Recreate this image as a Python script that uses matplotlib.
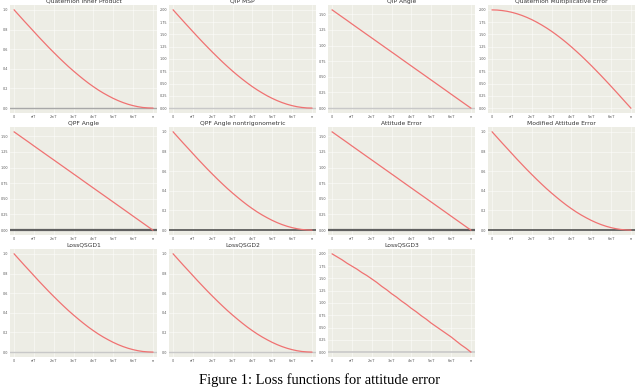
"""Loss functions for attitude error: 11 small panels in a 3x4 grid."""
import matplotlib

matplotlib.use("Agg")
import matplotlib.pyplot as plt  # noqa: E402

# attitude error angle samples (rad), 0 .. pi in steps of pi/28
theta = [0.000, 0.112, 0.224, 0.337, 0.449, 0.561, 0.673, 0.785,
         0.898, 1.010, 1.122, 1.234, 1.346, 1.459, 1.571, 1.683,
         1.795, 1.907, 2.020, 2.132, 2.244, 2.356, 2.468, 2.580,
         2.693, 2.805, 2.917, 3.029, 3.142]

x_ticks = [0.0, 0.449, 0.898, 1.346, 1.795, 2.244, 2.693, 3.142]
x_tick_labels = ["0", "π/7", "2π/7", "3π/7", "4π/7", "5π/7", "6π/7", "π"]

titles = [
    "Quaternion Inner Product", "QIP MSP", "QIP Angle",
    "Quaternion Multiplicative Error",
    "QPF Angle", "QPF Angle nontrigonometric", "Attitude Error",
    "Modified Attitude Error",
    "LossQSGD1", "LossQSGD2", "LossQSGD3",
]

qip = [1.000, 0.944, 0.888, 0.833, 0.778, 0.723, 0.670, 0.617,
       0.566, 0.516, 0.468, 0.421, 0.377, 0.334, 0.293, 0.254,
       0.218, 0.184, 0.153, 0.125, 0.099, 0.076, 0.056, 0.039,
       0.025, 0.014, 0.006, 0.002, 0.000]
qip_msp = [2.000, 1.888, 1.776, 1.665, 1.555, 1.446, 1.339, 1.235,
           1.132, 1.033, 0.936, 0.843, 0.753, 0.667, 0.586, 0.509,
           0.436, 0.369, 0.307, 0.249, 0.198, 0.152, 0.112, 0.078,
           0.050, 0.028, 0.013, 0.003, 0.000]
qip_angle = [1.571, 1.515, 1.459, 1.403, 1.346, 1.290, 1.234, 1.178,
             1.122, 1.066, 1.010, 0.954, 0.898, 0.842, 0.785, 0.729,
             0.673, 0.617, 0.561, 0.505, 0.449, 0.393, 0.337, 0.281,
             0.224, 0.168, 0.112, 0.056, 0.000]
q_mult = [2.000, 1.997, 1.987, 1.972, 1.950, 1.922, 1.888, 1.848,
          1.802, 1.750, 1.693, 1.631, 1.564, 1.491, 1.414, 1.333,
          1.247, 1.157, 1.064, 0.967, 0.868, 0.765, 0.661, 0.554,
          0.445, 0.335, 0.224, 0.112, 0.000]
qpf_angle = [1.571, 1.515, 1.459, 1.403, 1.346, 1.290, 1.234, 1.178,
             1.122, 1.066, 1.010, 0.954, 0.898, 0.842, 0.785, 0.729,
             0.673, 0.617, 0.561, 0.505, 0.449, 0.393, 0.337, 0.281,
             0.224, 0.168, 0.112, 0.056, 0.000]
qpf_nontrig = [1.000, 0.944, 0.888, 0.833, 0.778, 0.723, 0.670, 0.617,
               0.566, 0.516, 0.468, 0.421, 0.377, 0.334, 0.293, 0.254,
               0.218, 0.184, 0.153, 0.125, 0.099, 0.076, 0.056, 0.039,
               0.025, 0.014, 0.006, 0.002, 0.000]
att_err = [1.571, 1.515, 1.459, 1.403, 1.346, 1.290, 1.234, 1.178,
           1.122, 1.066, 1.010, 0.954, 0.898, 0.842, 0.785, 0.729,
           0.673, 0.617, 0.561, 0.505, 0.449, 0.393, 0.337, 0.281,
           0.224, 0.168, 0.112, 0.056, 0.000]
mod_att_err = [1.000, 0.944, 0.888, 0.833, 0.778, 0.723, 0.670, 0.617,
               0.566, 0.516, 0.468, 0.421, 0.377, 0.334, 0.293, 0.254,
               0.218, 0.184, 0.153, 0.125, 0.099, 0.076, 0.056, 0.039,
               0.025, 0.014, 0.006, 0.002, 0.000]
qsgd1 = [1.000, 0.944, 0.888, 0.833, 0.778, 0.723, 0.670, 0.617,
         0.566, 0.516, 0.468, 0.421, 0.377, 0.334, 0.293, 0.254,
         0.218, 0.184, 0.153, 0.125, 0.099, 0.076, 0.056, 0.039,
         0.025, 0.014, 0.006, 0.002, 0.000]
qsgd2 = [1.000, 0.944, 0.888, 0.833, 0.778, 0.723, 0.670, 0.617,
         0.566, 0.516, 0.468, 0.421, 0.377, 0.334, 0.293, 0.254,
         0.218, 0.184, 0.153, 0.125, 0.099, 0.076, 0.056, 0.039,
         0.025, 0.014, 0.006, 0.002, 0.000]
qsgd3 = [2.00, 1.94, 1.88, 1.81, 1.75, 1.69, 1.62, 1.56,
         1.49, 1.42, 1.34, 1.27, 1.19, 1.12, 1.04, 0.97,
         0.89, 0.82, 0.74, 0.67, 0.59, 0.52, 0.45, 0.38,
         0.31, 0.23, 0.15, 0.08, 0.00]

series = [qip, qip_msp, qip_angle, q_mult, qpf_angle, qpf_nontrig,
          att_err, mod_att_err, qsgd1, qsgd2, qsgd3]

# y tick sets
y_ticks = [
    [0.0, 0.2, 0.4, 0.6, 0.8, 1.0],
    [0.0, 0.25, 0.5, 0.75, 1.0, 1.25, 1.5, 1.75, 2.0],
    [0.0, 0.25, 0.5, 0.75, 1.0, 1.25, 1.5],
    [0.0, 0.25, 0.5, 0.75, 1.0, 1.25, 1.5, 1.75, 2.0],
    [0.0, 0.25, 0.5, 0.75, 1.0, 1.25, 1.5],
    [0.0, 0.2, 0.4, 0.6, 0.8, 1.0],
    [0.0, 0.25, 0.5, 0.75, 1.0, 1.25, 1.5],
    [0.0, 0.2, 0.4, 0.6, 0.8, 1.0],
    [0.0, 0.2, 0.4, 0.6, 0.8, 1.0],
    [0.0, 0.2, 0.4, 0.6, 0.8, 1.0],
    [0.0, 0.25, 0.5, 0.75, 1.0, 1.25, 1.5, 1.75, 2.0],
]

# zero line per panel (None = not drawn)
ZERO_LINE = ["#a8a8a8", "#c8c8c8", "#c8c8c8", None,
             "#606060", "#505050", "#606060", "#505050",
             "#c8c8c8", "#c8c8c8", "#c8c8c8"]
ZERO_LW = [1.0, 1.0, 1.0, 0,
           1.6, 1.2, 1.6, 1.2,
           1.0, 1.0, 1.2]

BG = "#edede5"
LINE = "#f07272"

fig = plt.figure(figsize=(6.4, 3.92), dpi=100)
W, H = 640.0, 392.0
col_left = [10, 169, 328, 488]
row_top = [5, 127, 249]
ax_w, ax_h = 147, 108

for i, (title, y) in enumerate(zip(titles, series)):
    r, c = divmod(i, 4)
    ax = fig.add_axes([col_left[c] / W, 1 - (row_top[r] + ax_h) / H,
                       ax_w / W, ax_h / H])
    ax.set_facecolor(BG)
    for s in ax.spines.values():
        s.set_visible(False)
    ax.grid(True, color="white", lw=0.4, alpha=0.8)
    ax.set_axisbelow(True)
    if ZERO_LINE[i]:
        ax.axhline(0, color=ZERO_LINE[i], lw=ZERO_LW[i], zorder=1.5)
    ax.plot(theta, y, color=LINE, lw=0.9, zorder=3)
    ax.set_xticks(x_ticks)
    ax.set_xticklabels(x_tick_labels)
    ax.set_yticks(y_ticks[i])
    ax.margins(x=0.03, y=0.05)
    ax.tick_params(labelsize=2.4, colors="#555555", length=0, pad=1.2)
    ax.set_title(title, fontsize=4.3, color="#333333", pad=1.5)

fig.text(0.5, 0.031, "Figure 1: Loss functions for attitude error",
         ha="center", va="center", family="Liberation Serif", fontsize=10.5)

fig.savefig("out.png", dpi=100)
plt.close(fig)
